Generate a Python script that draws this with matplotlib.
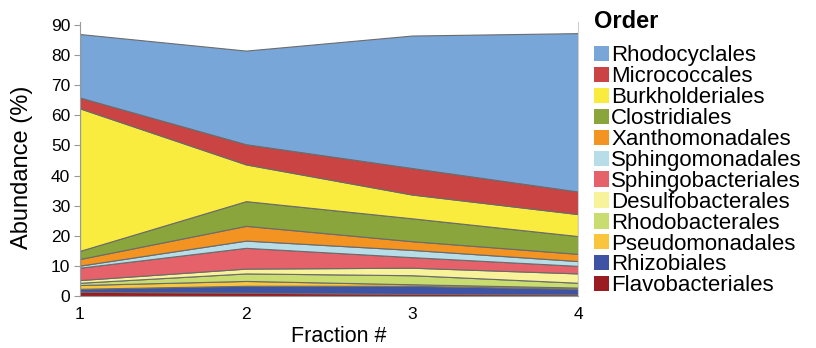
import matplotlib
matplotlib.use("Agg")
import matplotlib.pyplot as plt
import numpy as np

plt.rcParams['font.family'] = ['Liberation Sans', 'DejaVu Sans']

# Fractions 1..4
fractions = [1, 2, 3, 4]

# abundance (%) per order, bottom of the stack first
orders = ['Flavobacteriales', 'Rhizobiales', 'Pseudomonadales', 'Rhodobacterales',
          'Desulfobacterales', 'Sphingobacteriales', 'Sphingomonadales',
          'Xanthomonadales', 'Clostridiales', 'Burkholderiales', 'Micrococcales',
          'Rhodocyclales']
flavobacteriales = [1.4, 1.1, 0.7, 0.55]
rhizobiales = [1.0, 2.3, 2.7, 1.85]
pseudomonadales = [1.25, 1.6, 0.5, 0.4]
rhodobacterales = [0.75, 2.5, 3.0, 1.6]
desulfobacterales = [0.9, 1.6, 2.5, 3.1]
sphingobacteriales = [4.1, 6.9, 3.5, 2.5]
sphingomonadales = [0.7, 2.4, 2.4, 1.6]
xanthomonadales = [2.2, 4.9, 2.9, 2.4]
clostridiales = [2.7, 8.2, 7.6, 5.9]
burkholderiales = [47.3, 12.2, 7.9, 7.3]
micrococcales = [3.6, 6.7, 8.8, 7.5]
rhodocyclales = [21.1, 31.1, 44.0, 52.6]

colors = ['#9B1C20', '#3E53A4', '#F9C53D', '#C8DC70', '#F8F29B', '#E6626A',
          '#B7DDE8', '#F39322', '#8AA53C', '#F9EC3E', '#C94443', '#79A6D8']

series = [flavobacteriales, rhizobiales, pseudomonadales, rhodobacterales,
          desulfobacterales, sphingobacteriales, sphingomonadales,
          xanthomonadales, clostridiales, burkholderiales, micrococcales,
          rhodocyclales]

fig = plt.figure(figsize=(8.16, 3.48), dpi=100)
ax = fig.add_axes([80/816, 1-296/348, 498/816, 274/348])

ax.stackplot(fractions, *series, colors=colors, labels=orders,
             edgecolor='#6b6b6b', linewidth=0.8)

ax.set_xlim(1, 4)
ax.set_ylim(0, 91)
ax.set_xticks(fractions)
ax.set_yticks(np.arange(0, 91, 10))
ax.tick_params(axis='x', length=0, pad=8, labelsize=12.5)
ax.tick_params(axis='y', length=4, width=0.8, color='#999999', pad=3, labelsize=12.5)

for s in ['left', 'bottom']:
    ax.spines[s].set_color('#9a9a9a')
ax.spines['right'].set_color('#cfcfcf')
ax.spines['top'].set_visible(False)

ax.set_ylabel('Abundance (%)', fontsize=17)
ax.yaxis.set_label_coords(-0.094, 0.47)
ax.set_xlabel('Fraction #', fontsize=15.5)
ax.xaxis.set_label_coords(0.52, -0.11)

handles, labels = ax.get_legend_handles_labels()
leg = fig.legend(handles[::-1], labels[::-1], loc='upper left',
                 bbox_to_anchor=(585/816, 1-1/348), frameon=False,
                 fontsize=16, handlelength=0.68, handleheight=0.68,
                 handletextpad=0.1, labelspacing=-0.004, borderaxespad=0,
                 title='Order', title_fontproperties={'size': 17, 'weight': 'bold'},
                 alignment='left')
leg._legend_box.sep = 9
for h in leg.legend_handles:
    h.set_edgecolor('none')

fig.savefig('out.png', dpi=100)
